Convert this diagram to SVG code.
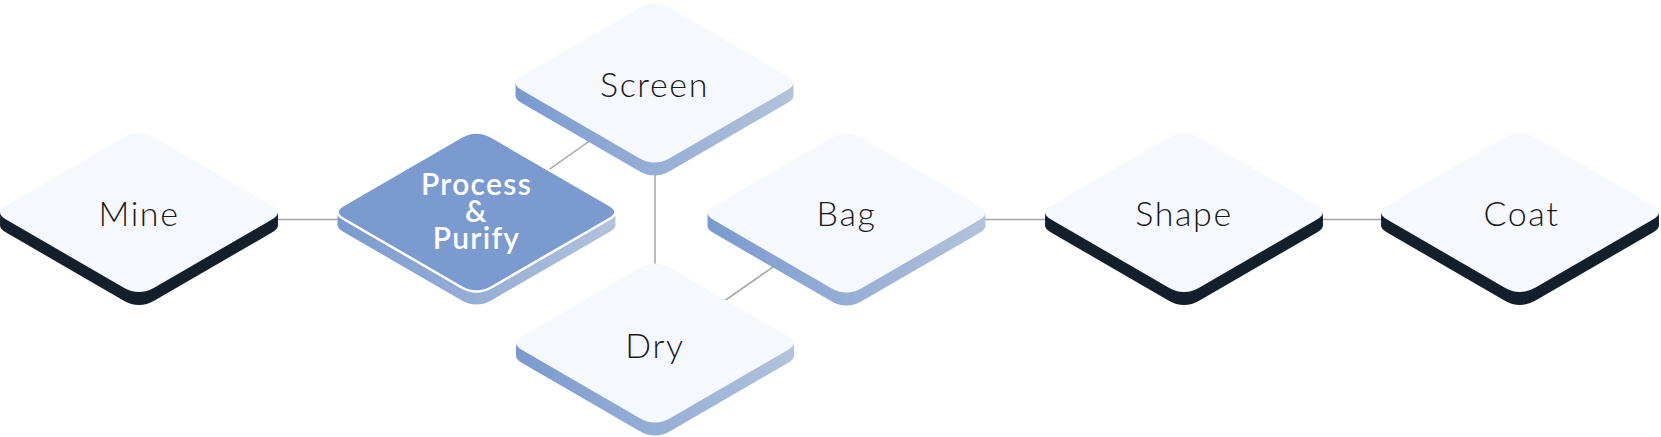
<svg xmlns="http://www.w3.org/2000/svg" xmlns:xlink="http://www.w3.org/1999/xlink" width="1661" height="437" viewBox="0 0 1661 437">
  <style>
    .face { fill: #F5F8FD; }
    .face-blue { fill: #7B9BD0; stroke: #FFFFFF; stroke-width: 2.5; }
    .side-dark { fill: #13202C; }
    .side-blue { fill: url(#sideGrad); }
    .label { font-family: "Lato", "Open Sans", "Liberation Sans", sans-serif; font-weight: 300; font-size: 34px; letter-spacing: 1.6px; fill: #1A1A1A; text-anchor: middle; }
    .label-w { font-family: "Lato", "Open Sans", "Liberation Sans", sans-serif; font-weight: 600; font-size: 30px; letter-spacing: 1.3px; fill: #FFFFFF; text-anchor: middle; }
    .conn { stroke: #A3A3A3; stroke-width: 1.5; fill: none; }
  </style>
  <defs>
    <linearGradient id="sideGrad" gradientUnits="userSpaceOnUse" x1="-139" y1="0" x2="139" y2="0">
      <stop offset="0" stop-color="#7A9ACF"/>
      <stop offset="1" stop-color="#B1C3DC"/>
    </linearGradient>
    <path id="top" d="M -132.89,-7.02 L -15.57,-74.98 Q 0,-84 15.57,-74.98 L 132.89,-7.02 Q 145,0 132.89,7.02 L 15.57,74.98 Q 0,84 -15.57,74.98 L -132.89,7.02 Q -145,0 -132.89,-7.02 Z"/>
    <g id="side">
      <use xlink:href="#top" y="13"/>
      <rect x="-138.95" y="0" width="277.9" height="13"/>
    </g>
  </defs>

  <g id="connectors">
    <line class="conn" x1="139" y1="219.5" x2="477" y2="219.5"/>
    <line class="conn" x1="530" y1="183" x2="610" y2="126.5"/>
    <line class="conn" x1="655" y1="150" x2="655" y2="290"/>
    <line class="conn" x1="705" y1="314.3" x2="795" y2="251.7"/>
    <line class="conn" x1="846" y1="219.5" x2="1520" y2="219.5"/>
  </g>

  <g id="node-mine" transform="translate(139,212.5)">
    <use xlink:href="#side" class="side-dark"/>
    <use xlink:href="#top" class="face"/>
    <text class="label" x="0" y="13.5">Mine</text>
  </g>

  <g id="node-process" transform="translate(476.5,212)">
    <use xlink:href="#side" class="side-blue"/>
    <use xlink:href="#top" class="face-blue"/>
    <text class="label-w" x="0" y="-17">Process</text>
    <text class="label-w" x="0" y="10">&amp;</text>
    <text class="label-w" x="0" y="37">Purify</text>
  </g>

  <g id="node-screen" transform="translate(654.5,83)">
    <use xlink:href="#side" class="side-blue"/>
    <use xlink:href="#top" class="face"/>
    <text class="label" x="0" y="14">Screen</text>
  </g>

  <g id="node-dry" transform="translate(655,343)">
    <use xlink:href="#side" class="side-blue"/>
    <use xlink:href="#top" class="face"/>
    <text class="label" x="0" y="15">Dry</text>
  </g>

  <g id="node-bag" transform="translate(846.5,213)">
    <use xlink:href="#side" class="side-blue"/>
    <use xlink:href="#top" class="face"/>
    <text class="label" x="0" y="13">Bag</text>
  </g>

  <g id="node-shape" transform="translate(1184,212.5)">
    <use xlink:href="#side" class="side-dark"/>
    <use xlink:href="#top" class="face"/>
    <text class="label" x="0" y="13.5">Shape</text>
  </g>

  <g id="node-coat" transform="translate(1520,212.5)">
    <use xlink:href="#side" class="side-dark"/>
    <use xlink:href="#top" class="face"/>
    <text class="label" x="1.5" y="13.5">Coat</text>
  </g>
</svg>
